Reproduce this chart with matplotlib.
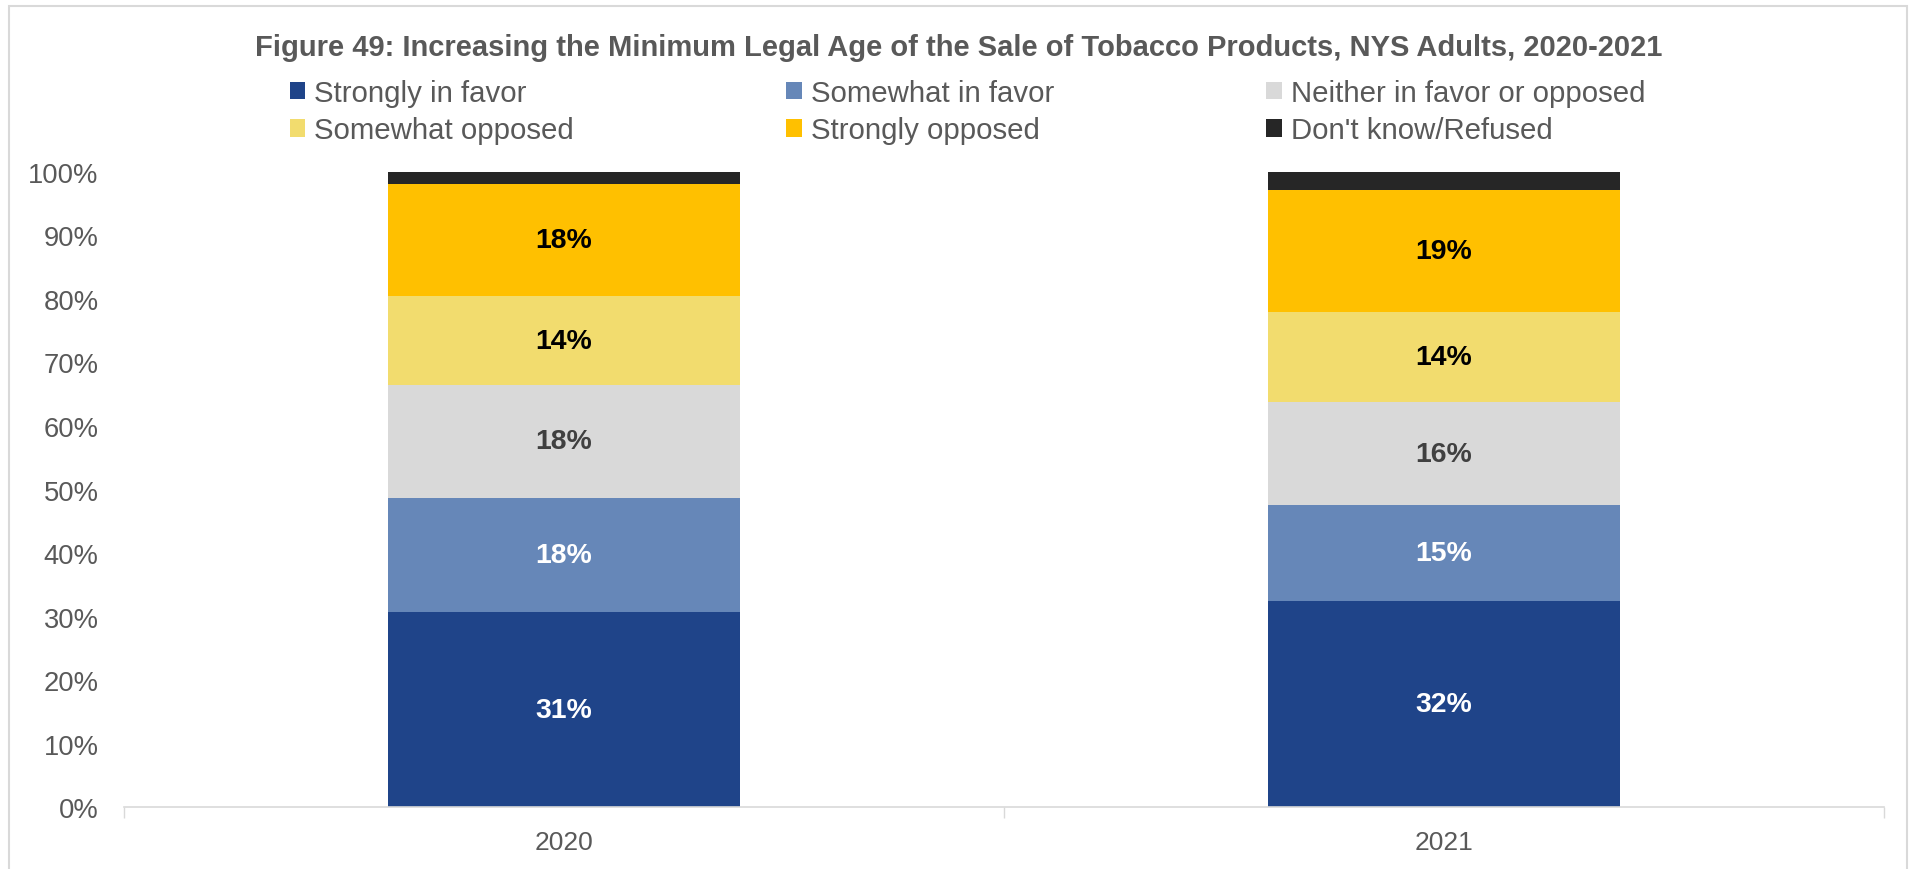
import matplotlib
matplotlib.use('Agg')
from matplotlib import pyplot as plt
from matplotlib.patches import Patch, Rectangle
import numpy as np

plt.rcParams['font.family'] = ['Liberation Sans', 'DejaVu Sans']

years = ['2020', '2021']
series = ['Strongly in favor', 'Somewhat in favor', 'Neither in favor or opposed',
          'Somewhat opposed', 'Strongly opposed', "Don't know/Refused"]
strongly_favor = [30.8, 32.5]
somewhat_favor = [17.9, 15.0]
neither = [17.7, 16.2]
somewhat_opposed = [14.0, 14.2]
strongly_opposed = [17.7, 19.2]
dont_know = [1.9, 2.9]
labels = [['31%', '32%'], ['18%', '15%'], ['18%', '16%'], ['14%', '14%'], ['18%', '19%'], None]

colors = ['#1F4489', '#6687B8', '#D9D9D9', '#F2DC6E', '#FFC000', '#262626']
txtcol = ['white', 'white', '#404040', 'black', 'black', None]
data = [strongly_favor, somewhat_favor, neither, somewhat_opposed, strongly_opposed, dont_know]

fig = plt.figure(figsize=(19.18, 8.70), dpi=100)
ax = fig.add_axes([0.0644, 0.0707, 0.9177, 0.731])

x = np.arange(len(years))
bottom = np.zeros(len(years))
for i, vals in enumerate(data):
    v = np.array(vals) / 100.0
    ax.bar(x, v, 0.4, bottom=bottom, color=colors[i], label=series[i], zorder=2)
    if labels[i] is not None:
        for j in range(len(years)):
            ax.text(x[j], bottom[j] + v[j] / 2, labels[i][j], ha='center', va='center',
                    fontsize=20.4, fontweight='bold', color=txtcol[i], zorder=3)
    bottom += v

ax.set_xlim(-0.5, 1.5)
ax.set_ylim(0, 1)
ax.set_yticks(np.arange(0, 1.01, 0.1))
ax.set_yticklabels(['%d%%' % round(t * 100) for t in np.arange(0, 1.01, 0.1)])
ax.set_xticks(x)
ax.set_xticklabels(years)
ax.set_xticks([-0.5, 0.5, 1.5], minor=True)
ax.tick_params(axis='y', length=0, labelsize=19.7, labelcolor='#595959', pad=18)
ax.tick_params(axis='x', which='major', length=0, labelsize=19, labelcolor='#595959', pad=16)
ax.tick_params(axis='x', which='minor', length=8, width=1, color='#D9D9D9')
for s in ['top', 'right', 'left']:
    ax.spines[s].set_visible(False)
ax.spines['bottom'].set_color('#D9D9D9')
ax.spines['bottom'].set_linewidth(1.2)

fig.text(0.5, 1 - 47.5 / 870, 'Figure 49: Increasing the Minimum Legal Age of the Sale of Tobacco Products, NYS Adults, 2020-2021',
         ha='center', va='center', fontsize=21, fontweight='bold', color='#595959')

# legend is filled column by column, so reorder to read row by row
order = [0, 3, 1, 4, 2, 5]
handles = [Patch(facecolor=colors[k]) for k in order]
leg = fig.legend(handles, [series[k] for k in order], ncol=3, loc='upper left',
                 bbox_to_anchor=(290 / 1918, 1 - 80 / 870),
                 frameon=False, fontsize=21.2, handlelength=0.52, handleheight=0.52, handletextpad=0.3,
                 columnspacing=7.22, labelspacing=0.32, borderaxespad=0, borderpad=0)
for t in leg.get_texts():
    t.set_color('#595959')

fig.patches.append(Rectangle((9 / 1918, -0.01), 1898 / 1918, 1.01 - 7 / 870, transform=fig.transFigure,
                             fill=False, edgecolor='#D9D9D9', linewidth=1.5))

plt.savefig('out.png', dpi=100)
